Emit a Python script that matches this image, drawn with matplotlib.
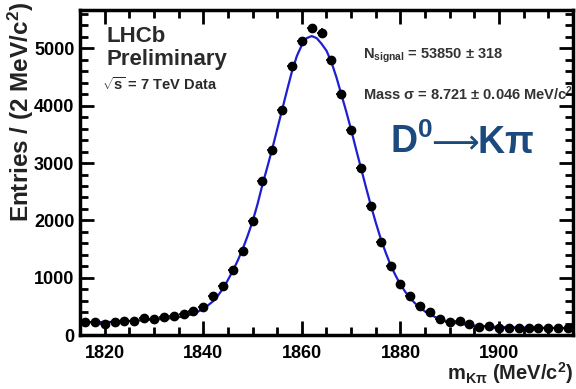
import numpy as np
import matplotlib
matplotlib.use('Agg')
import matplotlib.pyplot as plt
from matplotlib.ticker import MultipleLocator

plt.rcParams['font.family'] = ['Liberation Sans', 'DejaVu Sans']
plt.rcParams['font.weight'] = 'bold'
plt.rcParams['mathtext.fontset'] = 'custom'
plt.rcParams['mathtext.rm'] = 'Liberation Sans:bold'
plt.rcParams['mathtext.bf'] = 'Liberation Sans:bold'
plt.rcParams['mathtext.it'] = 'Liberation Sans:bold:italic'
plt.rcParams['mathtext.sf'] = 'Liberation Sans:bold'
plt.rcParams['mathtext.default'] = 'bf'

# ---- data ----
mass = [1816, 1818, 1820, 1822, 1824, 1826, 1828, 1830, 1832, 1834,
        1836, 1838, 1840, 1842, 1844, 1846, 1848, 1850, 1852, 1854,
        1856, 1858, 1860, 1862, 1864, 1866, 1868, 1870, 1872, 1874,
        1876, 1878, 1880, 1882, 1884, 1886, 1888, 1890, 1892, 1894,
        1896, 1898, 1900, 1902, 1904, 1906, 1908, 1910, 1912, 1914]
entries = [235, 235, 190, 235, 245, 245, 290, 275, 320, 330,
           360, 420, 480, 685, 860, 1135, 1470, 1990, 2685, 3225,
           3925, 4685, 5135, 5355, 5275, 4800, 4210, 3585, 2910, 2250,
           1615, 1205, 885, 675, 500, 405, 275, 235, 245, 190,
           145, 160, 130, 130, 130, 115, 130, 115, 130, 125]

fit_mass = [1815, 1818, 1821, 1824, 1827, 1830, 1833, 1835, 1837, 1838,
            1839, 1840, 1841, 1842, 1843, 1844, 1845, 1846, 1847, 1848,
            1849, 1850, 1851, 1852, 1853, 1854, 1855, 1856, 1857, 1858,
            1859, 1860, 1861, 1862, 1863, 1864, 1865, 1866, 1867, 1868,
            1869, 1870, 1871, 1872, 1873, 1874, 1875, 1876, 1877, 1878,
            1879, 1880, 1881, 1882, 1883, 1884, 1885, 1886, 1887, 1888,
            1889, 1890, 1892, 1894, 1896, 1898, 1900, 1904, 1908, 1912, 1915]
fit_entries = [225, 225, 228, 240, 255, 268, 290, 310, 345, 370,
               410, 460, 520, 590, 690, 810, 960, 1120, 1300, 1500,
               1730, 1980, 2280, 2620, 2930, 3250, 3590, 3930, 4270, 4600,
               4870, 5060, 5180, 5215, 5180, 5080, 4960, 4760, 4500, 4200,
               3900, 3580, 3240, 2910, 2580, 2260, 1960, 1680, 1440, 1220,
               1040, 880, 750, 640, 550, 475, 410, 360, 315, 280,
               250, 228, 195, 172, 158, 147, 140, 132, 126, 122, 120]

x_ticks = [1820, 1840, 1860, 1880, 1900]
y_ticks = [0, 1000, 2000, 3000, 4000, 5000]

W, H = 576, 389
fig = plt.figure(figsize=(W / 100, H / 100), dpi=100)
ax = fig.add_axes([80 / W, 54 / H, 493 / W, 325 / H])

ax.plot(fit_mass, fit_entries, color='#1e1ed2', lw=1.6, zorder=2)
ax.errorbar(mass, entries, xerr=1, yerr=np.sqrt(entries), fmt='o',
            color='black', ms=6, elinewidth=1.2, capsize=0, zorder=3)

ax.set_xlim(1815, 1915)
ax.set_ylim(0, 5670)
ax.set_xticks(x_ticks)
ax.set_yticks(y_ticks)
ax.xaxis.set_minor_locator(MultipleLocator(5))
ax.yaxis.set_minor_locator(MultipleLocator(200))
ax.tick_params(which='both', direction='in', top=True, right=True,
               width=2, labelsize=13, colors='black')
ax.tick_params(which='major', length=10)
ax.tick_params(which='minor', length=6)
ax.tick_params(axis='x', pad=7)
ax.tick_params(axis='y', pad=4)
for s in ax.spines.values():
    s.set_linewidth(2.5)

fig.text(21 / W, 1 - 2 / H, 'Entries / (2 MeV/c$^2$)', rotation=90,
         ha='center', va='top', fontsize=17.5, color='#222222')
fig.text(573 / W, 1 - 380 / H, r'm$_{K\pi}$ (MeV/c$^2$)', ha='right',
         va='baseline', fontsize=14.5, color='#222222')

fig.text(106 / W, 1 - 42 / H, 'LHCb', fontsize=16, va='baseline',
         color='#2a2a2a')
fig.text(106 / W, 1 - 65 / H, 'Preliminary', fontsize=16, va='baseline',
         color='#2a2a2a')
fig.text(102 / W, 1 - 90 / H, r'$\sqrt{s}$ = 7 TeV Data', fontsize=10.5,
         va='baseline', color='#2a2a2a')

fig.text(363 / W, 1 - 59 / H, r'N$_{signal}$ = 53850 $\pm$ 318',
         fontsize=10.5, va='baseline', color='#333333')
fig.text(363 / W, 1 - 100 / H,
         r'Mass $\sigma$ = 8.721 $\pm$ 0.046 MeV/c$^2$',
         fontsize=10.5, va='baseline', color='#333333')

blue = '#1c4a7e'
fig.text(390 / W, 1 - 153 / H, r'$D^0$', fontsize=27,
         va='baseline', ha='left', color=blue)
fig.text(455 / W, 1 - 153 / H, '\u27f6', fontsize=24, family='DejaVu Sans',
         weight='normal', va='baseline', ha='center', color=blue)
fig.text(477 / W, 1 - 153 / H, r'$K\pi$', fontsize=27,
         va='baseline', ha='left', color=blue)

fig.savefig('out.png', dpi=100)
